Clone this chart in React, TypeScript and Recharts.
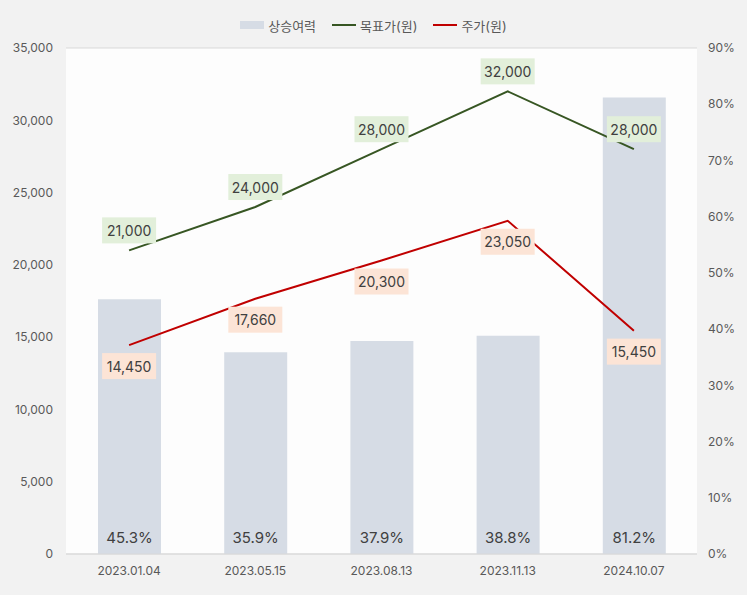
import { ComposedChart, Bar, Line, XAxis, YAxis, CartesianGrid, Legend, LabelList } from 'recharts'

// 상승여력 / 목표가 / 주가
const dates = ['2023.01.04', '2023.05.15', '2023.08.13', '2023.11.13', '2024.10.07']
const upside = [0.453, 0.359, 0.379, 0.388, 0.812]
const targetPrice = [21000, 24000, 28000, 32000, 28000]
const stockPrice = [14450, 17660, 20300, 23050, 15450]

const leftTicks = [0, 5000, 10000, 15000, 20000, 25000, 30000, 35000]
const rightTicks = [0, 0.1, 0.2, 0.3, 0.4, 0.5, 0.6, 0.7, 0.8, 0.9]

const data = dates.map((d, i) => ({
    date: d,
    upside: upside[i],
    target: targetPrice[i],
    price: stockPrice[i],
}))

const FONT = "Inter, 'Noto Sans CJK KR', sans-serif"
const fmt = (v: number) => v.toLocaleString('en-US')

const boxLabel = (fill: string, dy: number) => (props: any) => {
    const { x, y, value } = props
    const text = fmt(value)
    const w = text.length * 8 + 6
    const h = 26
    const cy = y + dy
    return (
        <g>
            <rect x={x - w / 2} y={cy - h / 2} width={w} height={h} fill={fill} />
            <text x={x} y={cy} textAnchor="middle" dominantBaseline="central"
                fontSize={14} fill="#404040" fontFamily={FONT}>{text}</text>
        </g>
    )
}

const legendItems = [
    { name: '상승여력', kind: 'rect', color: '#d6dce5' },
    { name: '목표가(원)', kind: 'line', color: '#375623' },
    { name: '주가(원)', kind: 'line', color: '#c00000' },
]

function ChartLegend() {
    return (
        <div style={{ height: 36, display: 'flex', justifyContent: 'center', alignItems: 'flex-start' }}>
            <div style={{ display: 'flex', alignItems: 'center', height: 26, gap: 16 }}>
                {legendItems.map((it) => (
                    <div key={it.name} style={{ display: 'flex', alignItems: 'center', gap: 4 }}>
                        {it.kind === 'rect'
                            ? <div style={{ width: 24, height: 8, background: it.color }} />
                            : <div style={{ width: 24, height: 2, background: it.color }} />}
                        <span style={{ fontSize: 13, color: '#595959', fontFamily: FONT }}>{it.name}</span>
                    </div>
                ))}
            </div>
        </div>
    )
}

export default function App() {
    return (
        <div style={{ position: 'fixed', left: 0, top: 0, width: 747, height: 595, background: '#f2f2f2' }}>
            <ComposedChart width={747} height={595} data={data}
                margin={{ top: 12, right: 0, bottom: 11, left: 0 }}
                style={{ fontFamily: FONT }}>
                <CartesianGrid vertical={false} stroke="#d9d9d9" fill="#fdfdfd" />
                <Legend verticalAlign="top" content={() => <ChartLegend />} />
                <XAxis dataKey="date" tickLine={false} axisLine={{ stroke: '#d9d9d9' }}
                    tick={{ fontSize: 12, fill: '#595959' }} tickMargin={6} />
                <YAxis yAxisId="left" domain={[0, 35000]} ticks={leftTicks} width={66}
                    tickFormatter={fmt} axisLine={false} tickLine={false} tickMargin={7}
                    tick={{ fontSize: 12, fill: '#595959' }} />
                <YAxis yAxisId="right" orientation="right" domain={[0, 0.9]} ticks={rightTicks} width={50}
                    tickFormatter={(v: number) => `${Math.round(v * 100)}%`} axisLine={false} tickLine={false}
                    tickMargin={5} tick={{ fontSize: 12, fill: '#595959', textAnchor: 'start' }} />
                <Bar yAxisId="right" dataKey="upside" fill="#d6dce5" barSize={63} isAnimationActive={false}>
                    <LabelList dataKey="upside" position="insideBottom" offset={11}
                        formatter={(v: any) => `${(v * 100).toFixed(1)}%`}
                        style={{ fontSize: 15, fill: '#404040' }} />
                </Bar>
                <Line yAxisId="left" dataKey="target" stroke="#375623" strokeWidth={2} dot={false}
                    isAnimationActive={false}>
                    <LabelList dataKey="target" content={boxLabel('#e2efda', -20)} />
                </Line>
                <Line yAxisId="left" dataKey="price" stroke="#c00000" strokeWidth={2} dot={false}
                    isAnimationActive={false}>
                    <LabelList dataKey="price" content={boxLabel('#fce4d6', 21)} />
                </Line>
            </ComposedChart>
        </div>
    )
}
